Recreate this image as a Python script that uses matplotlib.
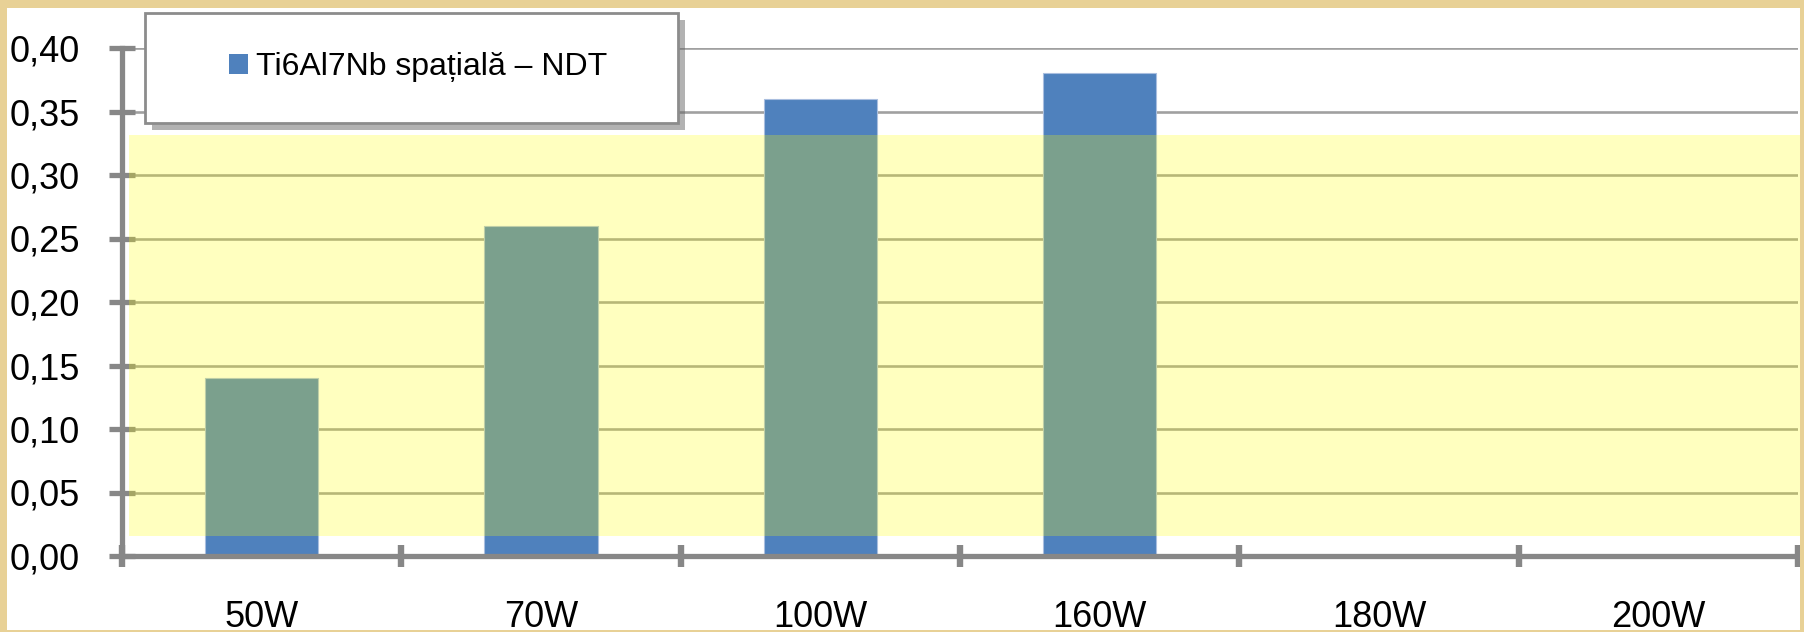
import numpy as np
import matplotlib
matplotlib.use("Agg")
import matplotlib.pyplot as plt
import matplotlib.patches as mpatches
import matplotlib.patheffects as pe
from matplotlib.ticker import FixedLocator, FuncFormatter
from matplotlib.transforms import blended_transform_factory

# data
categories = ["50W", "70W", "100W", "160W", "180W", "200W"]
ndt_values = [0.14, 0.26, 0.36, 0.38, np.nan, np.nan]
series_label = "Ti6Al7Nb spațială – NDT"
y_ticks = [0.00, 0.05, 0.10, 0.15, 0.20, 0.25, 0.30, 0.35, 0.40]
band_range = (0.0157, 0.3315)   # highlighted region

BAR_COLOR = "#4f81bd"
AXIS_GRAY = "#878787"
GRID_GRAY = "#a0a0a0"
GOLD = "#e8d196"

plt.rcParams["font.family"] = ["Liberation Sans", "DejaVu Sans"]

W, H = 1804, 632
fig = plt.figure(figsize=(W / 100, H / 100), dpi=100, facecolor="white")
ax = fig.add_axes([122 / W, (H - 556) / H, 1676 / W, (556 - 48) / H])
ax.set_facecolor("none")

x = np.arange(len(categories)) + 0.5
ax.bar(x, ndt_values, width=0.405, color=BAR_COLOR, edgecolor="#a9bedf",
       linewidth=0.8, zorder=2)

ax.set_xlim(0, len(categories))
ax.set_ylim(0, 0.40)

# grid
for v in y_ticks[1:]:
    ax.axhline(v, color=GRID_GRAY, lw=1.9, zorder=1)

# spines
for s in ["top", "right"]:
    ax.spines[s].set_visible(False)
for s in ["left", "bottom"]:
    ax.spines[s].set_color(AXIS_GRAY)
    ax.spines[s].set_linewidth(3.8)

# y axis
ax.yaxis.set_major_locator(FixedLocator(y_ticks))
ax.yaxis.set_major_formatter(FuncFormatter(lambda v, p: f"{v:.2f}".replace(".", ",")))
ax.tick_params(axis="y", which="major", direction="inout", length=19, width=3.8,
               color=AXIS_GRAY, labelsize=26, pad=21, labelcolor="black")

# x axis: marks at category boundaries, labels at centers
ax.xaxis.set_major_locator(FixedLocator(np.arange(len(categories) + 1)))
ax.xaxis.set_major_formatter(FuncFormatter(lambda v, p: ""))
ax.xaxis.set_minor_locator(FixedLocator(x))
ax.set_xticklabels(categories, minor=True)
ax.tick_params(axis="x", which="major", direction="inout", length=16.5, width=4.6,
               color=AXIS_GRAY)
ax.tick_params(axis="x", which="minor", length=0, labelsize=26, pad=32,
               labelcolor="black")

# translucent yellow band over the plot
trans = blended_transform_factory(ax.transAxes, ax.transData)
band = mpatches.Rectangle((7 / 1676, band_range[0]), (1800 - 129) / 1676,
                          band_range[1] - band_range[0], transform=trans,
                          facecolor="yellow", alpha=0.25, edgecolor="none",
                          zorder=3, clip_on=False)
ax.add_patch(band)

# legend box with drop shadow, entry centred inside it
box = mpatches.Rectangle((145 / W, 1 - 123 / H), (678 - 145) / W, 110 / H,
                         transform=fig.transFigure, facecolor="white",
                         edgecolor="#8c8c8c", linewidth=2.0, zorder=4)
box.set_path_effects([pe.SimplePatchShadow(offset=(5, -5), shadow_rgbFace="0.4", alpha=0.5),
                      pe.Normal()])
fig.add_artist(box)

handle = mpatches.Patch(facecolor=BAR_COLOR, edgecolor="none")
leg = fig.legend([handle], [series_label], prop={"size": 23},
                 loc="center", bbox_to_anchor=(418 / W, 1 - 67 / H),
                 bbox_transform=fig.transFigure, borderaxespad=0, borderpad=0,
                 handlelength=0.58, handleheight=0.6, handletextpad=0.25,
                 frameon=False)
leg.set_zorder(5)

# golden frame around the slide
strips = [(0, 0, 7, H), (0, H - 8, W, 8), (W - 4, 0, 4, H), (0, 0, W, 2)]
for (sx, sy, sw, sh) in strips:
    fig.add_artist(mpatches.Rectangle((sx / W, sy / H), sw / W, sh / H,
                                      transform=fig.transFigure, facecolor=GOLD,
                                      edgecolor="none", zorder=20))

fig.savefig("out.png", dpi=100, facecolor=fig.get_facecolor())
